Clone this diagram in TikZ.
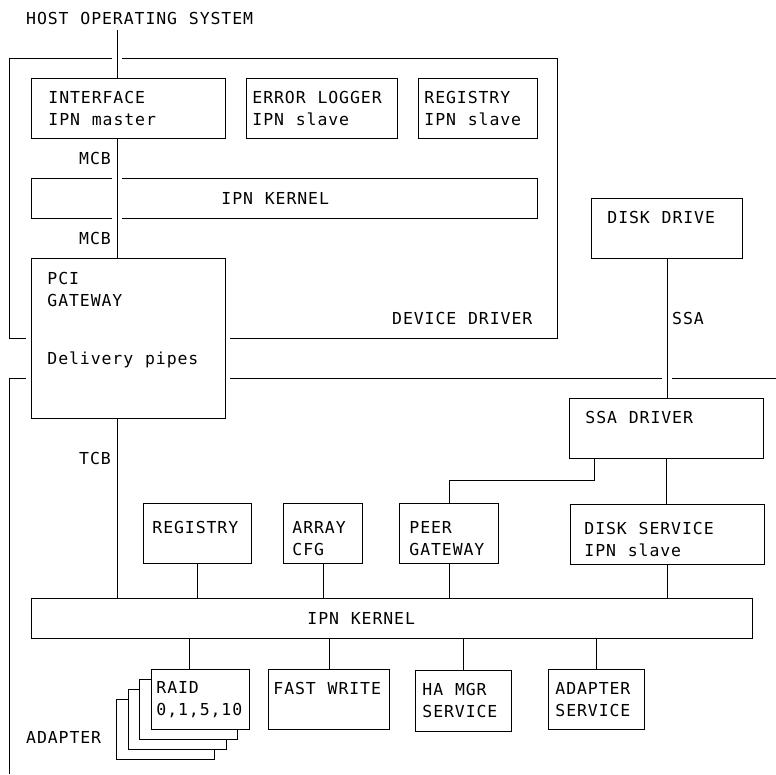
\documentclass[tikz,border=0pt]{standalone}
\usepackage{fontspec}
\newfontfamily\ibmmono[LetterSpace=5.5,WordSpace=1.09]{DejaVu Sans Mono}
\newcommand\chartfont{\ibmmono\fontsize{16.5}{22}\selectfont}

\begin{document}
\begin{tikzpicture}[x=1pt,y=-1pt]
\tikzset{unit/.style={draw,fill=white,line width=0.9pt,anchor=north west,align=flush left,inner ysep=0pt,font=\chartfont},
  tag/.style={inner sep=0pt,font=\chartfont},
  link/.style={line width=0.9pt},
  frame/.style={line width=0.9pt},
  halo/.style={preaction={draw=white,line width=10pt}}}
\useasboundingbox (0,0) rectangle (776,774);
\coordinate (bus) at (117,0);
\coordinate (hostlink) at (117,30);
\draw[frame] (9,58) rectangle (557,338);
\draw[frame] (776,378) -- (9,378) -- (9,774);

\node[tag,anchor=base west] (host) at (26,24) {HOST OPERATING SYSTEM};
\node[unit,minimum height=40pt,text width=126pt,inner xsep=190pt] (dkern) at (31,178) {IPN KERNEL};
\node[unit,minimum height=60pt,text width=160pt,inner xsep=17pt] (ifc) at (31,78) {INTERFACE\\IPN master};
\node[unit,minimum height=60pt,text width=139pt,inner xsep=6pt] (errlog) at (246,78) {ERROR LOGGER\\IPN slave};
\node[unit,minimum height=60pt,text width=107pt,inner xsep=6pt] (dreg) at (418,78) {REGISTRY\\IPN slave};
\node[unit,halo,minimum height=160pt,text width=162pt,inner xsep=16pt] (pci) at (31,258) {PCI\\GATEWAY\\[36pt]Delivery pipes\\[18pt]\mbox{}};
\node[tag,anchor=base east] (mcb1) at (111,164) {MCB};
\node[tag,anchor=base east] (mcb2) at (111,244) {MCB};
\node[tag,anchor=base west] (ddlabel) at (392,324) {DEVICE DRIVER};

\node[unit,minimum height=60pt,text width=119pt,inner xsep=16pt] (disk) at (591,198) {DISK DRIVE\\\mbox{}};
\node[tag,anchor=base west] (ssalabel) at (672,324) {SSA};
\node[unit,minimum height=60pt,text width=162pt,inner xsep=16pt] (ssa) at (569,398) {SSA DRIVER\\\mbox{}};
\node[tag,anchor=base east] (tcb) at (111,464) {TCB};

\node[unit,text depth=12pt,minimum height=60pt,text width=90pt,inner xsep=9pt] (reg) at (143,503) {REGISTRY\\\mbox{}};
\node[unit,text depth=12pt,minimum height=60pt,text width=61pt,inner xsep=9pt] (arr) at (283,503) {ARRAY\\CFG};
\node[unit,text depth=12pt,minimum height=60pt,text width=79pt,inner xsep=10pt] (peer) at (399,503) {PEER\\GATEWAY};
\node[unit,text depth=12pt,minimum height=60pt,text width=166pt,inner xsep=14pt] (dsvc) at (570,504) {DISK SERVICE\\IPN slave};
\node[unit,minimum height=40pt,text width=169pt,inner xsep=276pt] (kern) at (31,598) {IPN KERNEL};

\foreach \i in {3,2,1}
  \node[unit,minimum height=60pt,text width=88pt,inner xsep=5pt] (raid\i) at ({151-11.7*\i},{669+10*\i}) {};
\node[unit,minimum height=60pt,text width=88pt,inner xsep=5pt] (raid) at (151,669) {RAID\\0,1,5,10};
\node[unit,minimum height=60pt,text width=111pt,inner xsep=5pt] (fw) at (268,669) {FAST WRITE\\\mbox{}};
\node[unit,minimum height=61pt,text width=82pt,inner xsep=7pt] (ha) at (415,670) {HA MGR\\SERVICE};
\node[unit,minimum height=60pt,text width=82pt,inner xsep=7pt] (asvc) at (548,669) {ADAPTER\\SERVICE};
\node[tag,anchor=base west] (adapter) at (26,743) {ADAPTER};

\draw[link,halo] (hostlink) -- (ifc.north -| hostlink);
\draw[link,halo] (ifc.south -| bus) -- (pci.north -| bus);
\draw[link] (pci.south -| bus) -- (kern.north -| bus);
\draw[link,halo] (disk.south) -- (disk.south |- ssa.north);
\draw[link] (ssa.south) -- (ssa.south |- dsvc.north);
\draw[link] ([xshift=25pt]ssa.south west) -- ++(0,22) -| (peer.north);
\draw[link] (reg.south) -- (reg.south |- kern.north);
\draw[link] (arr.south) -- (arr.south |- kern.north);
\draw[link] (peer.south) -- (peer.south |- kern.north);
\draw[link] (dsvc.south) -- (dsvc.south |- kern.north);
\draw[link] ([xshift=-11pt]raid.north) -- ++(0,-31);
\draw[link] (fw.north) -- (fw.north |- kern.south);
\draw[link] (ha.north) -- (ha.north |- kern.south);
\draw[link] (asvc.north) -- (asvc.north |- kern.south);
\end{tikzpicture}
\end{document}
